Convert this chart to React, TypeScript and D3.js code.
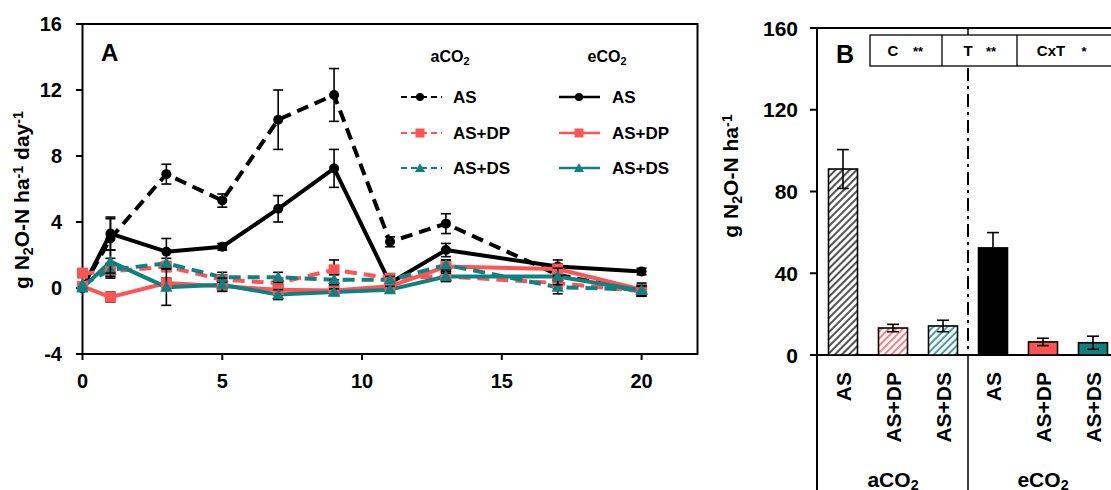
import React from "react";
import * as d3 from "d3";

// ---- Panel A: daily N2O-N flux ----
const days = [0, 1, 3, 5, 7, 9, 11, 13, 17, 20];
const aAS = [0, 3.0, 6.9, 5.3, 10.2, 11.7, 2.8, 3.9, 0.8, -0.2];
const aASErr = [0, 1.2, 0.6, 0.4, 1.8, 1.6, 0.3, 0.6, 0.4, 0.2];
const eAS = [0, 3.3, 2.2, 2.5, 4.8, 7.25, 0.3, 2.3, 1.3, 1.0];
const eASErr = [0, 1.0, 0.8, 0.2, 0.8, 1.15, 0.2, 0.4, 0.4, 0.2];
const aDP = [0.9, 1.0, 1.3, 0.5, 0.3, 1.1, 0.6, 0.7, 0.3, -0.2];
const aDPErr = [0.2, 0.4, 0.3, 0.3, 0.3, 0.6, 0.2, 0.3, 0.3, 0.3];
const eDP = [0.1, -0.55, 0.3, 0.1, -0.1, -0.15, 0.1, 1.3, 1.15, -0.1];
const eDPErr = [0.1, 0.3, 0.3, 0.3, 0.3, 0.2, 0.2, 0.4, 0.3, 0.4];
const aDS = [0.2, 1.1, 1.5, 0.65, 0.65, 0.5, 0.5, 1.4, 0.05, -0.1];
const aDSErr = [0.1, 0.4, 0.3, 0.3, 0.3, 0.3, 0.2, 0.3, 0.4, 0.2];
const eDS = [0, 1.6, 0.05, 0.2, -0.4, -0.25, -0.1, 0.7, 0.7, -0.15];
const eDSErr = [0.1, 0.7, 1.1, 0.4, 0.3, 0.2, 0.2, 0.3, 0.5, 0.3];
const xTicksA = [0, 5, 10, 15, 20];
const yTicksA = [-4, 0, 4, 8, 12, 16];

// ---- Panel B: cumulative N2O-N ----
const barCats = ["aAS", "aDP", "aDS", "eAS", "eDP", "eDS"];
const barLabels = ["AS", "AS+DP", "AS+DS", "AS", "AS+DP", "AS+DS"];
const barValues = [91, 13.2, 14.2, 52.4, 6.4, 6.0];
const barErrors = [9.5, 1.8, 2.8, 7.5, 1.8, 3.2];
const yTicksB = [0, 40, 80, 120, 160];
const anovaLabels = [
  { term: "C", sig: "**" },
  { term: "T", sig: "**" },
  { term: "CxT", sig: "*" },
];

const RED = "#ff5454";
const TEAL = "#0e8282";
const FONT = "'Liberation Sans', Arial, sans-serif";

type Series = {
  key: string;
  values: number[];
  errors: number[];
  color: string;
  dashed: boolean;
  marker: "circle" | "square" | "triangle";
};

const series: Series[] = [
  { key: "aAS", values: aAS, errors: aASErr, color: "#000", dashed: true, marker: "circle" },
  { key: "eAS", values: eAS, errors: eASErr, color: "#000", dashed: false, marker: "circle" },
  { key: "aDP", values: aDP, errors: aDPErr, color: RED, dashed: true, marker: "square" },
  { key: "eDP", values: eDP, errors: eDPErr, color: RED, dashed: false, marker: "square" },
  { key: "aDS", values: aDS, errors: aDSErr, color: TEAL, dashed: true, marker: "triangle" },
  { key: "eDS", values: eDS, errors: eDSErr, color: TEAL, dashed: false, marker: "triangle" },
];

function Marker({ type, x, y, color, size }: { type: string; x: number; y: number; color: string; size: number }) {
  if (type === "circle") return <circle cx={x} cy={y} r={size / 2} fill={color} />;
  if (type === "square")
    return <rect x={x - size / 2} y={y - size / 2} width={size} height={size} fill={color} />;
  const tri = d3.symbol(d3.symbolTriangle, size * size * 0.55)() as string;
  return <path d={tri} transform={`translate(${x},${y + 1})`} fill={color} />;
}

export default function App() {
  // Panel A scales
  const xA = d3.scaleLinear().domain([0, 22]).range([82.5, 697.5]);
  const yA = d3.scaleLinear().domain([-4, 16]).range([354, 24]);
  const line = d3
    .line<number>()
    .x((_, i) => xA(days[i]))
    .y((v) => yA(v));

  // Panel B scales
  const xB = d3.scaleBand<string>().domain(barCats).range([818, 1118]).paddingInner(0.42).paddingOuter(0.21);
  const yB = d3.scaleLinear().domain([0, 160]).range([355, 28]);
  const bw = xB.bandwidth();
  const cx = (c: string) => (xB(c) as number) + bw / 2;
  const divX = (cx("aDS") + cx("eAS")) / 2;
  const fills = ["url(#hatchK)", "url(#hatchR)", "url(#hatchT)", "#000", RED, TEAL];

  const legendRows = [
    { label: "AS", color: "#000", marker: "circle" },
    { label: "AS+DP", color: RED, marker: "square" },
    { label: "AS+DS", color: TEAL, marker: "triangle" },
  ];
  const legendY = [97, 133, 168];

  return (
    <svg
      width={1111}
      height={490}
      style={{ position: "absolute", left: 0, top: 0, background: "#fff" }}
      fontFamily={FONT}
      fontWeight="bold"
    >
      <defs>
        {[
          ["hatchK", "#1a1a1a"],
          ["hatchR", RED],
          ["hatchT", TEAL],
        ].map(([id, c]) => (
          <pattern key={id} id={id} patternUnits="userSpaceOnUse" width={5} height={5} patternTransform="rotate(45)">
            <rect width={5} height={5} fill="#fff" />
            <line x1={1} y1={0} x2={1} y2={5} stroke={c} strokeWidth={1.5} />
          </pattern>
        ))}
      </defs>
      <rect width={1111} height={490} fill="#fff" />

      {/* ===== Panel A ===== */}
      <rect x={82.5} y={24} width={615} height={330} fill="none" stroke="#000" strokeWidth={2} />
      {yTicksA.map((t) => (
        <g key={t}>
          <line x1={76} x2={82.5} y1={yA(t)} y2={yA(t)} stroke="#000" strokeWidth={2} />
          <text x={62} y={yA(t)} dy="0.36em" textAnchor="end" fontSize={20}>
            {t}
          </text>
        </g>
      ))}
      {xTicksA.map((t) => (
        <g key={t}>
          <line x1={xA(t)} x2={xA(t)} y1={354} y2={360} stroke="#000" strokeWidth={2} />
          <text x={xA(t)} y={388} textAnchor="middle" fontSize={20}>
            {t}
          </text>
        </g>
      ))}
      <text transform="translate(29,200) rotate(-90)" textAnchor="middle" fontSize={21}>
        <tspan>g N</tspan>
        <tspan dy="0.28em" fontSize="0.68em">2</tspan>
        <tspan dy="-0.19em">O-N ha</tspan>
        <tspan dy="-0.45em" fontSize="0.68em">-1</tspan>
        <tspan dy="0.31em"> day</tspan>
        <tspan dy="-0.45em" fontSize="0.68em">-1</tspan>
      </text>
      <text x={101} y={61} fontSize={24}>A</text>

      {series.map((s) => (
        <path
          key={s.key}
          d={line(s.values) as string}
          fill="none"
          stroke={s.color}
          strokeWidth={4}
          strokeDasharray={s.dashed ? "12 7" : undefined}
          strokeLinejoin="round"
        />
      ))}
      {series.map((s) => (
        <g key={s.key + "m"}>
          {s.values.map((v, i) => {
            const x = xA(days[i]);
            const e = s.errors[i];
            return (
              <g key={i}>
                {e > 0.15 && (
                  <g stroke="#000" strokeWidth={1.6}>
                    <line x1={x} x2={x} y1={yA(v + e)} y2={yA(v - e)} />
                    <line x1={x - 5} x2={x + 5} y1={yA(v + e)} y2={yA(v + e)} />
                    <line x1={x - 5} x2={x + 5} y1={yA(v - e)} y2={yA(v - e)} />
                  </g>
                )}
                <Marker type={s.marker} x={x} y={yA(v)} color={s.color} size={s.marker === "circle" ? 10 : 11} />
              </g>
            );
          })}
        </g>
      ))}

      {/* Legend */}
      <text x={450} y={62} textAnchor="middle" fontSize={16}>
        <tspan>aCO</tspan>
        <tspan dy="0.28em" fontSize="0.68em">2</tspan>
      </text>
      <text x={607} y={62} textAnchor="middle" fontSize={16}>
        <tspan>eCO</tspan>
        <tspan dy="0.28em" fontSize="0.68em">2</tspan>
      </text>
      {legendRows.map((r, i) => (
        <g key={r.label}>
          <line x1={401} x2={442} y1={legendY[i]} y2={legendY[i]} stroke={r.color} strokeWidth={2.2} strokeDasharray="6 4" />
          <Marker type={r.marker} x={420} y={legendY[i]} color={r.color} size={r.marker === "circle" ? 8 : 9} />
          <text x={453} y={legendY[i]} dy="0.36em" fontSize={17}>
            {r.label}
          </text>
          <line x1={559} x2={600} y1={legendY[i]} y2={legendY[i]} stroke={r.color} strokeWidth={2.6} />
          <Marker type={r.marker} x={579} y={legendY[i]} color={r.color} size={r.marker === "circle" ? 8 : 9} />
          <text x={612} y={legendY[i]} dy="0.36em" fontSize={17}>
            {r.label}
          </text>
        </g>
      ))}

      {/* ===== Panel B ===== */}
      <line x1={817} x2={817} y1={27} y2={490} stroke="#000" strokeWidth={2} />
      <line x1={817} x2={1111} y1={28} y2={28} stroke="#000" strokeWidth={2} />
      <line x1={810} x2={1111} y1={355} y2={355} stroke="#000" strokeWidth={2} />
      {yTicksB.map((t) => (
        <g key={t}>
          <line x1={810} x2={817} y1={yB(t)} y2={yB(t)} stroke="#000" strokeWidth={2} />
          <text x={798} y={yB(t)} dy="0.36em" textAnchor="end" fontSize={21}>
            {t}
          </text>
        </g>
      ))}
      <text transform="translate(738,176) rotate(-90)" textAnchor="middle" fontSize={21}>
        <tspan>g N</tspan>
        <tspan dy="0.28em" fontSize="0.68em">2</tspan>
        <tspan dy="-0.19em">O-N ha</tspan>
        <tspan dy="-0.45em" fontSize="0.68em">-1</tspan>
      </text>
      <text x={845} y={63} textAnchor="middle" fontSize={25}>B</text>

      {/* ANOVA table */}
      <g stroke="#000" strokeWidth={1.3} fill="none">
        <rect x={870} y={35} width={260} height={31} />
        <line x1={942} x2={942} y1={35} y2={66} />
        <line x1={1017} x2={1017} y1={35} y2={66} />
      </g>
      {anovaLabels.map((a, i) => {
        const cxs = [893, 968, 1051][i];
        const sxs = [918, 991, 1084][i];
        return (
          <g key={a.term} fontSize={15}>
            <text x={cxs} y={51} dy="0.36em" textAnchor="middle">{a.term}</text>
            <text x={sxs} y={51} dy="0.36em" textAnchor="middle" fontSize={13}>{a.sig}</text>
          </g>
        );
      })}

      {/* Divider between CO2 levels */}
      <line x1={divX} x2={divX} y1={28} y2={35} stroke="#000" strokeWidth={1.5} />
      <line x1={divX} x2={divX} y1={68} y2={355} stroke="#000" strokeWidth={2} strokeDasharray="13 5 3 5" />
      <line x1={divX} x2={divX} y1={355} y2={490} stroke="#000" strokeWidth={1.5} />

      {barCats.map((c, i) => {
        const v = barValues[i];
        const e = barErrors[i];
        const x = xB(c) as number;
        const m = cx(c);
        return (
          <g key={c}>
            <rect x={x} y={yB(v)} width={bw} height={yB(0) - yB(v)} fill={fills[i]} stroke="#000" strokeWidth={1.6} />
            <g stroke="#000" strokeWidth={1.6}>
              <line x1={m} x2={m} y1={yB(v + e)} y2={yB(v - e)} />
              <line x1={m - 6} x2={m + 6} y1={yB(v + e)} y2={yB(v + e)} />
              <line x1={m - 6} x2={m + 6} y1={yB(v - e)} y2={yB(v - e)} />
            </g>
            <text transform={`translate(${m},372) rotate(-90)`} dy="0.36em" textAnchor="end" fontSize={21}>
              {barLabels[i]}
            </text>
          </g>
        );
      })}
      <text x={cx("aDP")} y={487} textAnchor="middle" fontSize={21}>
        <tspan>aCO</tspan>
        <tspan dy="0.2em" fontSize="0.68em">2</tspan>
      </text>
      <text x={cx("eDP")} y={487} textAnchor="middle" fontSize={21}>
        <tspan>eCO</tspan>
        <tspan dy="0.2em" fontSize="0.68em">2</tspan>
      </text>
    </svg>
  );
}
